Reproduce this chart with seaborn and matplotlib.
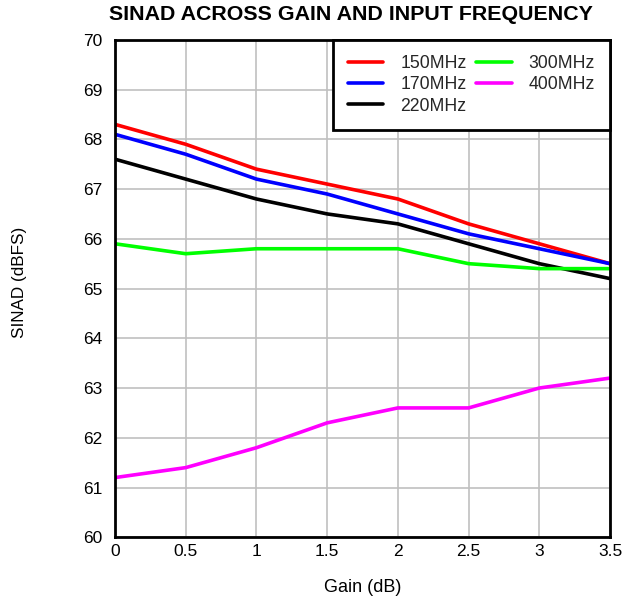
import matplotlib
matplotlib.use("Agg")
import matplotlib.pyplot as plt
import seaborn as sns
import pandas as pd

gain = [0, 0.5, 1, 1.5, 2, 2.5, 3, 3.5]
s150 = [68.3, 67.9, 67.4, 67.1, 66.8, 66.3, 65.9, 65.5]
s170 = [68.1, 67.7, 67.2, 66.9, 66.5, 66.1, 65.8, 65.5]
s220 = [67.6, 67.2, 66.8, 66.5, 66.3, 65.9, 65.5, 65.2]
s300 = [65.9, 65.7, 65.8, 65.8, 65.8, 65.5, 65.4, 65.4]
s400 = [61.2, 61.4, 61.8, 62.3, 62.6, 62.6, 63.0, 63.2]
labels = ["150MHz", "170MHz", "220MHz", "300MHz", "400MHz"]
colors = ["#ff0000", "#0000ff", "#000000", "#00ff00", "#ff00ff"]

rows = []
for lab, vals in zip(labels, [s150, s170, s220, s300, s400]):
    for g, v in zip(gain, vals):
        rows.append({"Gain": g, "SINAD": v, "Freq": lab})
df = pd.DataFrame(rows)

sns.set_theme(style="whitegrid")
plt.rcParams['font.family'] = ['Liberation Sans', 'DejaVu Sans']

fig = plt.figure(figsize=(6.25, 6.03), dpi=100)
ax = fig.add_axes([0.184, 0.109, 0.792, 0.825])
sns.lineplot(data=df, x="Gain", y="SINAD", hue="Freq", palette=colors,
             hue_order=labels, linewidth=2.6, ax=ax)

ax.set_xlim(0, 3.5)
ax.set_ylim(60, 70)
ax.set_xticks(gain)
ax.set_xticklabels(["0", "0.5", "1", "1.5", "2", "2.5", "3", "3.5"])
ax.set_yticks(range(60, 71))
ax.tick_params(labelsize=12.5, colors="black", length=0)
ax.tick_params(axis="y", pad=9)
ax.tick_params(axis="x", pad=5)
ax.grid(True, color="#c0c0c0", linewidth=1.2)
for s in ax.spines.values():
    s.set_color("black")
    s.set_linewidth(2.0)
ax.set_xlabel("Gain (dB)", fontsize=13, color="black")
ax.set_ylabel("SINAD (dBFS)", fontsize=12.3, color="black")
ax.xaxis.set_label_coords(0.5, -0.0845)
ax.yaxis.set_label_coords(-0.178, 0.513)
fig.text(0.561, 1 - 15 / 603, "SINAD ACROSS GAIN AND INPUT FREQUENCY",
         fontsize=15.4, fontweight="bold", color="black",
         ha="center", va="center")

leg = ax.legend(loc="upper right", ncol=2, fontsize=12.7, frameon=True,
                fancybox=False, borderaxespad=0, handlelength=2.0,
                columnspacing=0.55, labelspacing=0.25, handletextpad=0.96,
                borderpad=0.85)
leg.get_frame().set_edgecolor("black")
leg.get_frame().set_linewidth(2.0)
leg.get_frame().set_alpha(1)
for line in leg.get_lines():
    line.set_linewidth(2.6)

fig.savefig("out.png", dpi=100)
